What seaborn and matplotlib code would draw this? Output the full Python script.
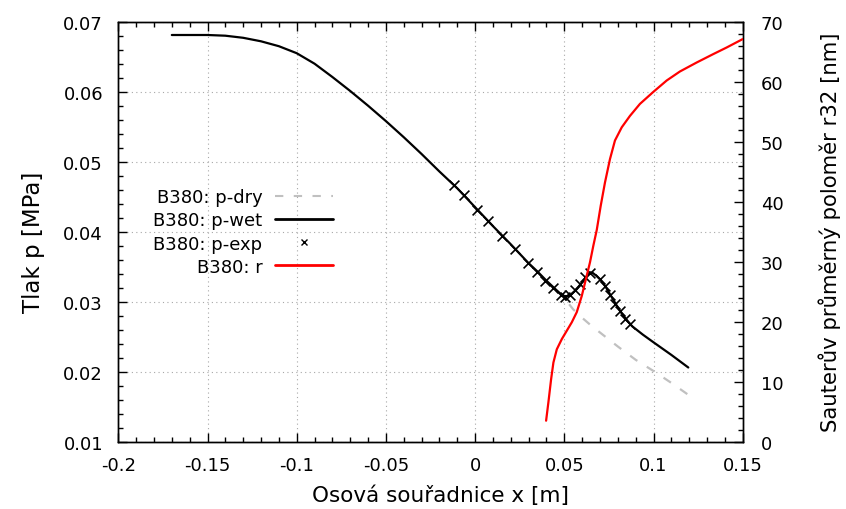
import matplotlib
matplotlib.use("Agg")
import matplotlib.pyplot as plt
import seaborn as sns
import numpy as np
import pandas as pd
from matplotlib.ticker import MultipleLocator
from matplotlib.lines import Line2D

# ---- data ----
x_wet = [-0.170, -0.160, -0.150, -0.140, -0.130, -0.120, -0.110, -0.100, -0.090, -0.080,
         -0.070, -0.060, -0.050, -0.040, -0.030, -0.020, -0.010, 0.000, 0.010, 0.020,
         0.030, 0.035, 0.040, 0.045, 0.048, 0.050, 0.052, 0.054, 0.057, 0.060, 0.063,
         0.0645, 0.066, 0.068, 0.070, 0.073, 0.076, 0.079, 0.082, 0.085, 0.088, 0.094,
         0.100, 0.110, 0.1195]
p_wet = [0.0681, 0.0681, 0.0681, 0.0680, 0.0677, 0.0672, 0.0665, 0.0655, 0.0640, 0.0621,
         0.0601, 0.0580, 0.0558, 0.0535, 0.0511, 0.0486, 0.0462, 0.0435, 0.0408, 0.0382,
         0.0355, 0.0343, 0.0330, 0.0318, 0.0311, 0.0308, 0.0308, 0.0311, 0.0318, 0.0328, 0.0338,
         0.0342, 0.0341, 0.0337, 0.0332, 0.0322, 0.0309, 0.0296, 0.0284, 0.0274, 0.0265, 0.0253,
         0.0242, 0.0224, 0.0206]

x_dry = [0.045, 0.050, 0.055, 0.060, 0.065, 0.070, 0.080, 0.090, 0.100, 0.110, 0.1195]
p_dry = [0.0317, 0.0305, 0.0289, 0.0277, 0.0266, 0.0256, 0.0236, 0.0217, 0.0201, 0.0184, 0.0167]

x_exp = [-0.0117, -0.0061, 0.0012, 0.0073, 0.0152, 0.0225, 0.0297, 0.0348, 0.0392, 0.0437,
         0.0482, 0.0504, 0.0532, 0.0560, 0.0588, 0.0616, 0.0644, 0.0700, 0.0729, 0.0756,
         0.0784, 0.0812, 0.0840, 0.0868]
p_exp = [0.0467, 0.0453, 0.0431, 0.0416, 0.0394, 0.0376, 0.0356, 0.0343, 0.0330, 0.0320,
         0.0310, 0.0307, 0.0310, 0.0317, 0.0326, 0.0336, 0.0341, 0.0333, 0.0323, 0.0309,
         0.0297, 0.0287, 0.0275, 0.0268]

x_r = [0.0398, 0.0411, 0.0426, 0.0439, 0.0458, 0.0486, 0.0514, 0.0542, 0.0570, 0.0598,
       0.0626, 0.0644, 0.0663, 0.0682, 0.0704, 0.0728, 0.0756, 0.0784, 0.0822, 0.0868,
       0.0924, 0.0999, 0.1074, 0.1148, 0.1242, 0.1335, 0.1410, 0.1500]
r_val = [3.5, 6.6, 10.4, 13.2, 15.4, 17.1, 18.5, 19.9, 21.6, 24.3,
         27.7, 29.9, 32.7, 35.3, 39.3, 43.2, 47.1, 50.2, 52.4, 54.3,
         56.3, 58.3, 60.2, 61.7, 63.2, 64.6, 65.7, 67.1]

labels = ["B380: p-dry", "B380: p-wet", "B380: p-exp", "B380: r"]

sns.set_theme(style="white")
plt.rcParams["font.family"] = ["DejaVu Sans"]
plt.rcParams["text.color"] = "black"
plt.rcParams["axes.labelcolor"] = "black"
plt.rcParams["xtick.color"] = "black"
plt.rcParams["ytick.color"] = "black"

fig = plt.figure(figsize=(8.46, 5.10), dpi=100)
ax = fig.add_axes([118.3 / 846, 1 - 442.7 / 510, (742.7 - 118.3) / 846, (442.7 - 22.7) / 510])
ax2 = ax.twinx()

sns.lineplot(x=x_dry, y=p_dry, ax=ax, color="#c0c0c0", linewidth=1.6,
             linestyle=(0, (4, 5)), sort=False, estimator=None, zorder=2)
sns.lineplot(x=x_wet, y=p_wet, ax=ax, color="black", linewidth=1.6,
             sort=False, estimator=None, zorder=3)
sns.scatterplot(x=x_exp, y=p_exp, ax=ax, marker="x", color="black", s=50,
                linewidth=1.2, zorder=4)
sns.lineplot(x=x_r, y=r_val, ax=ax2, color="#ff0000", linewidth=1.6,
             sort=False, estimator=None, zorder=5)

ax.set_xlim(-0.2, 0.15)
ax.set_ylim(0.01, 0.07)
ax2.set_ylim(0, 70)

ax.xaxis.set_major_locator(MultipleLocator(0.05))
ax.xaxis.set_minor_locator(MultipleLocator(0.01))
ax.yaxis.set_major_locator(MultipleLocator(0.01))
ax.yaxis.set_minor_locator(MultipleLocator(0.002))
ax2.yaxis.set_major_locator(MultipleLocator(10))
ax2.yaxis.set_minor_locator(MultipleLocator(2))

xt = [-0.2, -0.15, -0.1, -0.05, 0, 0.05, 0.1, 0.15]
ax.set_xticks(xt)
ax.set_xticklabels(["-0.2", "-0.15", "-0.1", "-0.05", "0", "0.05", "0.1", "0.15"])
yt = [0.01, 0.02, 0.03, 0.04, 0.05, 0.06, 0.07]
ax.set_yticks(yt)
ax.set_yticklabels(["0.01", "0.02", "0.03", "0.04", "0.05", "0.06", "0.07"])

ax.grid(True, which="major", color="#a8a8a8", linestyle=(0, (1, 3)), linewidth=0.8)
ax2.grid(False)

ax.tick_params(axis="x", which="both", direction="in", top=True, bottom=True,
               labelsize=13, pad=10)
ax.tick_params(axis="y", which="both", direction="in", left=True, right=False,
               labelsize=13, pad=11)
ax2.tick_params(axis="y", which="both", direction="in", right=True, left=False,
                labelsize=13, pad=13)
for a in (ax, ax2):
    a.tick_params(which="major", length=6.5, width=1.0)
    a.tick_params(which="minor", length=3.5, width=1.0)
    for s in a.spines.values():
        s.set_color("black")
        s.set_linewidth(1.0)

ax.set_xlabel("Osová souřadnice x [m]", fontsize=15.5, labelpad=8)
ax.set_ylabel("Tlak p [MPa]", fontsize=16.5, labelpad=13)
ax2.set_ylabel("Sauterův průměrný poloměr r32 [nm]", fontsize=15.3, labelpad=25)
ax.xaxis.label.set_x((440 - 118.3) / 624.4)
ax.yaxis.label.set_y((442.7 - 242) / 420)

for a in (ax, ax2):
    lg = a.get_legend()
    if lg is not None:
        lg.remove()

handles = [
    Line2D([], [], color="#c0c0c0", linewidth=1.5, linestyle=(0, (4, 5))),
    Line2D([], [], color="black", linewidth=2.0),
    Line2D([], [], color="black", linestyle="none", marker="x", markersize=5, markeredgewidth=1.0),
    Line2D([], [], color="#ff0000", linewidth=2.0),
]
fig.legend(handles, labels, loc="center right", bbox_to_anchor=(333 / 846, 1 - 233 / 510),
           frameon=False, markerfirst=False, fontsize=13, handlelength=3.2,
           handletextpad=0.7, labelspacing=0.28, borderpad=0, borderaxespad=0)

fig.savefig("out.png", dpi=100)
